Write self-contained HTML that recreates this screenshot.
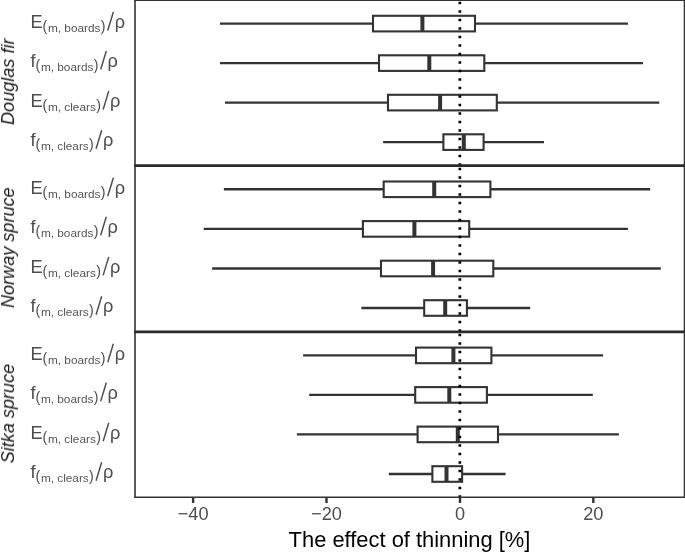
<!DOCTYPE html><html><head><meta charset="utf-8"><style>html,body{margin:0;padding:0;background:#fff;}svg{display:block;}text{will-change:transform;}text{font-family:"Liberation Sans",sans-serif;}</style></head><body>
<svg width="685" height="552" viewBox="0 0 685 552">
<rect x="0" y="0" width="685" height="552" fill="#fff"/>
<line x1="220.0" y1="23.6" x2="373.0" y2="23.6" stroke="#333333" stroke-width="2.4"/>
<line x1="475.0" y1="23.6" x2="627.9" y2="23.6" stroke="#333333" stroke-width="2.4"/>
<rect x="373.0" y="15.80" width="102.00" height="15.60" fill="#fff" stroke="#333333" stroke-width="2.1"/>
<line x1="422.4" y1="15.80" x2="422.4" y2="31.40" stroke="#333333" stroke-width="4.0"/>
<line x1="220.0" y1="63.1" x2="379.0" y2="63.1" stroke="#333333" stroke-width="2.4"/>
<line x1="484.3" y1="63.1" x2="643.0" y2="63.1" stroke="#333333" stroke-width="2.4"/>
<rect x="379.0" y="55.30" width="105.30" height="15.60" fill="#fff" stroke="#333333" stroke-width="2.1"/>
<line x1="429.3" y1="55.30" x2="429.3" y2="70.90" stroke="#333333" stroke-width="4.0"/>
<line x1="225.0" y1="102.6" x2="388.0" y2="102.6" stroke="#333333" stroke-width="2.4"/>
<line x1="496.8" y1="102.6" x2="659.3" y2="102.6" stroke="#333333" stroke-width="2.4"/>
<rect x="388.0" y="94.80" width="108.80" height="15.60" fill="#fff" stroke="#333333" stroke-width="2.1"/>
<line x1="440.1" y1="94.80" x2="440.1" y2="110.40" stroke="#333333" stroke-width="4.0"/>
<line x1="383.1" y1="142.1" x2="443.4" y2="142.1" stroke="#333333" stroke-width="2.4"/>
<line x1="483.6" y1="142.1" x2="544.0" y2="142.1" stroke="#333333" stroke-width="2.4"/>
<rect x="443.4" y="134.30" width="40.20" height="15.60" fill="#fff" stroke="#333333" stroke-width="2.1"/>
<line x1="463.8" y1="134.30" x2="463.8" y2="149.90" stroke="#333333" stroke-width="4.0"/>
<line x1="223.9" y1="189.3" x2="383.7" y2="189.3" stroke="#333333" stroke-width="2.4"/>
<line x1="490.4" y1="189.3" x2="650.2" y2="189.3" stroke="#333333" stroke-width="2.4"/>
<rect x="383.7" y="181.50" width="106.70" height="15.60" fill="#fff" stroke="#333333" stroke-width="2.1"/>
<line x1="434.2" y1="181.50" x2="434.2" y2="197.10" stroke="#333333" stroke-width="4.0"/>
<line x1="203.7" y1="228.9" x2="362.9" y2="228.9" stroke="#333333" stroke-width="2.4"/>
<line x1="469.2" y1="228.9" x2="627.9" y2="228.9" stroke="#333333" stroke-width="2.4"/>
<rect x="362.9" y="221.10" width="106.30" height="15.60" fill="#fff" stroke="#333333" stroke-width="2.1"/>
<line x1="414.4" y1="221.10" x2="414.4" y2="236.70" stroke="#333333" stroke-width="4.0"/>
<line x1="212.1" y1="268.5" x2="381.0" y2="268.5" stroke="#333333" stroke-width="2.4"/>
<line x1="493.3" y1="268.5" x2="660.8" y2="268.5" stroke="#333333" stroke-width="2.4"/>
<rect x="381.0" y="260.70" width="112.30" height="15.60" fill="#fff" stroke="#333333" stroke-width="2.1"/>
<line x1="433.1" y1="260.70" x2="433.1" y2="276.30" stroke="#333333" stroke-width="4.0"/>
<line x1="361.4" y1="308.0" x2="424.2" y2="308.0" stroke="#333333" stroke-width="2.4"/>
<line x1="466.9" y1="308.0" x2="530.2" y2="308.0" stroke="#333333" stroke-width="2.4"/>
<rect x="424.2" y="300.20" width="42.70" height="15.60" fill="#fff" stroke="#333333" stroke-width="2.1"/>
<line x1="445.2" y1="300.20" x2="445.2" y2="315.80" stroke="#333333" stroke-width="4.0"/>
<line x1="303.1" y1="355.4" x2="416.0" y2="355.4" stroke="#333333" stroke-width="2.4"/>
<line x1="491.4" y1="355.4" x2="603.1" y2="355.4" stroke="#333333" stroke-width="2.4"/>
<rect x="416.0" y="347.60" width="75.40" height="15.60" fill="#fff" stroke="#333333" stroke-width="2.1"/>
<line x1="453.4" y1="347.60" x2="453.4" y2="363.20" stroke="#333333" stroke-width="4.0"/>
<line x1="309.2" y1="394.9" x2="415.2" y2="394.9" stroke="#333333" stroke-width="2.4"/>
<line x1="486.9" y1="394.9" x2="592.8" y2="394.9" stroke="#333333" stroke-width="2.4"/>
<rect x="415.2" y="387.10" width="71.70" height="15.60" fill="#fff" stroke="#333333" stroke-width="2.1"/>
<line x1="449.3" y1="387.10" x2="449.3" y2="402.70" stroke="#333333" stroke-width="4.0"/>
<line x1="296.9" y1="434.4" x2="417.6" y2="434.4" stroke="#333333" stroke-width="2.4"/>
<line x1="498.0" y1="434.4" x2="618.9" y2="434.4" stroke="#333333" stroke-width="2.4"/>
<rect x="417.6" y="426.60" width="80.40" height="15.60" fill="#fff" stroke="#333333" stroke-width="2.1"/>
<line x1="457.8" y1="426.60" x2="457.8" y2="442.20" stroke="#333333" stroke-width="4.0"/>
<line x1="388.8" y1="474.0" x2="432.4" y2="474.0" stroke="#333333" stroke-width="2.4"/>
<line x1="462.1" y1="474.0" x2="505.6" y2="474.0" stroke="#333333" stroke-width="2.4"/>
<rect x="432.4" y="466.20" width="29.70" height="15.60" fill="#fff" stroke="#333333" stroke-width="2.1"/>
<line x1="446.5" y1="466.20" x2="446.5" y2="481.80" stroke="#333333" stroke-width="4.0"/>
<line x1="459.85" y1="165.70" x2="459.85" y2="-0.4" stroke="#000" stroke-width="2.7" stroke-dasharray="2.4 6.1"/>
<line x1="459.85" y1="331.70" x2="459.85" y2="165.56" stroke="#000" stroke-width="2.7" stroke-dasharray="2.4 6.1"/>
<line x1="459.85" y1="497.64" x2="459.85" y2="331.56" stroke="#000" stroke-width="2.7" stroke-dasharray="2.4 6.1"/>
<line x1="135" y1="0" x2="135" y2="497.8" stroke="#333333" stroke-width="1.6"/>
<line x1="684.5" y1="0" x2="684.5" y2="497.8" stroke="#333333" stroke-width="1.6"/>
<line x1="134.2" y1="0.3" x2="685" y2="0.3" stroke="#333333" stroke-width="1.6"/>
<line x1="134.2" y1="497.2" x2="685" y2="497.2" stroke="#333333" stroke-width="1.6"/>
<line x1="134.2" y1="165.6" x2="685" y2="165.6" stroke="#2a2a2a" stroke-width="2.8"/>
<line x1="134.2" y1="331.85" x2="685" y2="331.85" stroke="#2a2a2a" stroke-width="2.7"/>
<line x1="193.1" y1="497" x2="193.1" y2="503" stroke="#333333" stroke-width="2.4"/>
<text x="193.1" y="520.1" font-size="18.2" fill="#4d4d4d" text-anchor="middle">−40</text>
<line x1="326.5" y1="497" x2="326.5" y2="503" stroke="#333333" stroke-width="2.4"/>
<text x="326.5" y="520.1" font-size="18.2" fill="#4d4d4d" text-anchor="middle">−20</text>
<line x1="460.0" y1="497" x2="460.0" y2="503" stroke="#333333" stroke-width="2.4"/>
<text x="460.0" y="520.1" font-size="18.2" fill="#4d4d4d" text-anchor="middle">0</text>
<line x1="593.3" y1="497" x2="593.3" y2="503" stroke="#333333" stroke-width="2.4"/>
<text x="593.3" y="520.1" font-size="18.2" fill="#4d4d4d" text-anchor="middle">20</text>
<text x="30.4" y="28.10" font-size="18.2" fill="#4d4d4d">E<tspan font-size="14.2" dy="2.8">(</tspan><tspan font-size="11.8" dx="0.7" dy="0.9" fill="#555555">m, boards</tspan><tspan font-size="14.2" dx="0.3" dy="-0.9">)</tspan></text>
<line x1="107.76" y1="30.50" x2="113.36" y2="12.00" stroke="#4d4d4d" stroke-width="1.45"/>
<text x="114.66" y="28.10" font-size="18.2" fill="#4d4d4d">ρ</text>
<text x="30.4" y="67.10" font-size="18.2" fill="#4d4d4d">f<tspan font-size="14.2" dy="2.8">(</tspan><tspan font-size="11.8" dx="0.7" dy="0.9" fill="#555555">m, boards</tspan><tspan font-size="14.2" dx="0.3" dy="-0.9">)</tspan></text>
<line x1="100.68" y1="69.50" x2="106.28" y2="51.00" stroke="#4d4d4d" stroke-width="1.45"/>
<text x="107.58" y="67.10" font-size="18.2" fill="#4d4d4d">ρ</text>
<text x="30.4" y="107.10" font-size="18.2" fill="#4d4d4d">E<tspan font-size="14.2" dy="2.8">(</tspan><tspan font-size="11.8" dx="0.7" dy="0.9" fill="#555555">m, clears</tspan><tspan font-size="14.2" dx="0.3" dy="-0.9">)</tspan></text>
<line x1="103.16" y1="109.50" x2="108.76" y2="91.00" stroke="#4d4d4d" stroke-width="1.45"/>
<text x="110.06" y="107.10" font-size="18.2" fill="#4d4d4d">ρ</text>
<text x="30.4" y="146.40" font-size="18.2" fill="#4d4d4d">f<tspan font-size="14.2" dy="2.8">(</tspan><tspan font-size="11.8" dx="0.7" dy="0.9" fill="#555555">m, clears</tspan><tspan font-size="14.2" dx="0.3" dy="-0.9">)</tspan></text>
<line x1="96.08" y1="148.80" x2="101.68" y2="130.30" stroke="#4d4d4d" stroke-width="1.45"/>
<text x="102.98" y="146.40" font-size="18.2" fill="#4d4d4d">ρ</text>
<text x="30.4" y="193.80" font-size="18.2" fill="#4d4d4d">E<tspan font-size="14.2" dy="2.8">(</tspan><tspan font-size="11.8" dx="0.7" dy="0.9" fill="#555555">m, boards</tspan><tspan font-size="14.2" dx="0.3" dy="-0.9">)</tspan></text>
<line x1="107.76" y1="196.20" x2="113.36" y2="177.70" stroke="#4d4d4d" stroke-width="1.45"/>
<text x="114.66" y="193.80" font-size="18.2" fill="#4d4d4d">ρ</text>
<text x="30.4" y="232.90" font-size="18.2" fill="#4d4d4d">f<tspan font-size="14.2" dy="2.8">(</tspan><tspan font-size="11.8" dx="0.7" dy="0.9" fill="#555555">m, boards</tspan><tspan font-size="14.2" dx="0.3" dy="-0.9">)</tspan></text>
<line x1="100.68" y1="235.30" x2="106.28" y2="216.80" stroke="#4d4d4d" stroke-width="1.45"/>
<text x="107.58" y="232.90" font-size="18.2" fill="#4d4d4d">ρ</text>
<text x="30.4" y="273.00" font-size="18.2" fill="#4d4d4d">E<tspan font-size="14.2" dy="2.8">(</tspan><tspan font-size="11.8" dx="0.7" dy="0.9" fill="#555555">m, clears</tspan><tspan font-size="14.2" dx="0.3" dy="-0.9">)</tspan></text>
<line x1="103.16" y1="275.40" x2="108.76" y2="256.90" stroke="#4d4d4d" stroke-width="1.45"/>
<text x="110.06" y="273.00" font-size="18.2" fill="#4d4d4d">ρ</text>
<text x="30.4" y="312.30" font-size="18.2" fill="#4d4d4d">f<tspan font-size="14.2" dy="2.8">(</tspan><tspan font-size="11.8" dx="0.7" dy="0.9" fill="#555555">m, clears</tspan><tspan font-size="14.2" dx="0.3" dy="-0.9">)</tspan></text>
<line x1="96.08" y1="314.70" x2="101.68" y2="296.20" stroke="#4d4d4d" stroke-width="1.45"/>
<text x="102.98" y="312.30" font-size="18.2" fill="#4d4d4d">ρ</text>
<text x="30.4" y="359.90" font-size="18.2" fill="#4d4d4d">E<tspan font-size="14.2" dy="2.8">(</tspan><tspan font-size="11.8" dx="0.7" dy="0.9" fill="#555555">m, boards</tspan><tspan font-size="14.2" dx="0.3" dy="-0.9">)</tspan></text>
<line x1="107.76" y1="362.30" x2="113.36" y2="343.80" stroke="#4d4d4d" stroke-width="1.45"/>
<text x="114.66" y="359.90" font-size="18.2" fill="#4d4d4d">ρ</text>
<text x="30.4" y="398.90" font-size="18.2" fill="#4d4d4d">f<tspan font-size="14.2" dy="2.8">(</tspan><tspan font-size="11.8" dx="0.7" dy="0.9" fill="#555555">m, boards</tspan><tspan font-size="14.2" dx="0.3" dy="-0.9">)</tspan></text>
<line x1="100.68" y1="401.30" x2="106.28" y2="382.80" stroke="#4d4d4d" stroke-width="1.45"/>
<text x="107.58" y="398.90" font-size="18.2" fill="#4d4d4d">ρ</text>
<text x="30.4" y="438.90" font-size="18.2" fill="#4d4d4d">E<tspan font-size="14.2" dy="2.8">(</tspan><tspan font-size="11.8" dx="0.7" dy="0.9" fill="#555555">m, clears</tspan><tspan font-size="14.2" dx="0.3" dy="-0.9">)</tspan></text>
<line x1="103.16" y1="441.30" x2="108.76" y2="422.80" stroke="#4d4d4d" stroke-width="1.45"/>
<text x="110.06" y="438.90" font-size="18.2" fill="#4d4d4d">ρ</text>
<text x="30.4" y="478.30" font-size="18.2" fill="#4d4d4d">f<tspan font-size="14.2" dy="2.8">(</tspan><tspan font-size="11.8" dx="0.7" dy="0.9" fill="#555555">m, clears</tspan><tspan font-size="14.2" dx="0.3" dy="-0.9">)</tspan></text>
<line x1="96.08" y1="480.70" x2="101.68" y2="462.20" stroke="#4d4d4d" stroke-width="1.45"/>
<text x="102.98" y="478.30" font-size="18.2" fill="#4d4d4d">ρ</text>
<text transform="translate(14.0,81.7) rotate(-90)" x="0" y="0" font-size="18.1" font-style="italic" fill="#1a1a1a" text-anchor="middle">Douglas fir</text>
<text transform="translate(14.0,247.7) rotate(-90)" x="0" y="0" font-size="18.1" font-style="italic" fill="#1a1a1a" text-anchor="middle">Norway spruce</text>
<text transform="translate(14.0,413.6) rotate(-90)" x="0" y="0" font-size="18.1" font-style="italic" fill="#1a1a1a" text-anchor="middle">Sitka spruce</text>
<text x="409.5" y="546.7" font-size="21.9" fill="#000" text-anchor="middle">The effect of thinning [%]</text>
</svg></body></html>
